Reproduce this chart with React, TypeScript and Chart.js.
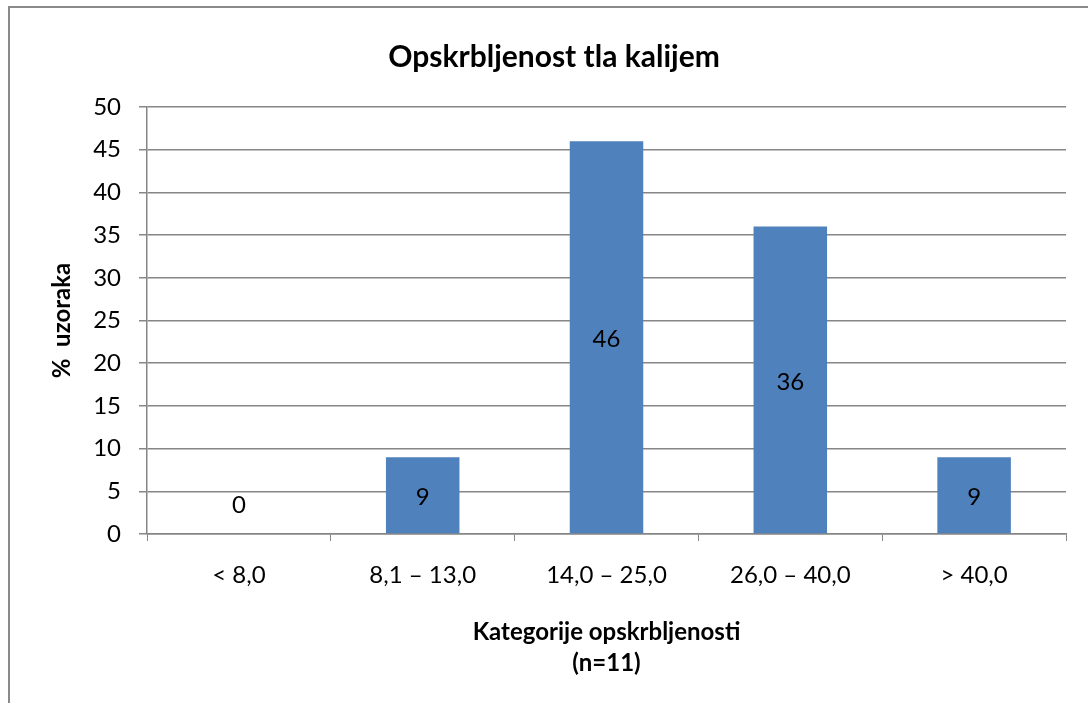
import React, { useEffect, useRef } from "react";
import { Chart, registerables } from "chart.js";

Chart.register(...registerables);

const categories = ["< 8,0", "8,1 – 13,0", "14,0 – 25,0", "26,0 – 40,0", "> 40,0"];
const values = [0, 9, 46, 36, 9];
const chartTitle = "Opskrbljenost tla kalijem";
const xTitleLines = ["Kategorije opskrbljenosti", "(n=11)"];
const yTitle = "%  uzoraka";
const yMin = 0;
const yMax = 50;
const yStep = 5;

const FONT = "Lato, 'Open Sans', sans-serif";
const GRID = "#868686";
const BAR = "#4F81BD";

const decorPlugin = {
  id: "decor",
  afterDraw(chart: any) {
    const ctx = chart.ctx;
    const ca = chart.chartArea;
    ctx.save();
    // frame
    ctx.strokeStyle = "#8a8a8a";
    ctx.lineWidth = 2;
    ctx.strokeRect(9, 7, 1092, 720);
    ctx.fillStyle = "#000";
    ctx.textAlign = "center";
    ctx.textBaseline = "middle";
    // title
    ctx.font = `bold 30px ${FONT}`;
    ctx.fillText(chartTitle, 554, 57);
    // x title
    ctx.font = `bold 24px ${FONT}`;
    const cx = (ca.left + ca.right) / 2;
    ctx.fillText(xTitleLines[0], cx, 632);
    ctx.fillText(xTitleLines[1], cx, 663);
    // y title
    ctx.save();
    ctx.translate(62, (ca.top + ca.bottom) / 2);
    ctx.rotate(-Math.PI / 2);
    ctx.fillText(yTitle, 0, 0);
    ctx.restore();
    // data labels
    ctx.font = `24px ${FONT}`;
    const meta = chart.getDatasetMeta(0);
    meta.data.forEach((el: any, i: number) => {
      const v = values[i];
      const y = v > 0 ? (el.y + el.base) / 2 + 2 : el.base - 29;
      ctx.fillText(String(v), el.x, y);
    });
    ctx.restore();
  },
};

export default function App() {
  const ref = useRef<HTMLCanvasElement>(null);
  useEffect(() => {
    if (!ref.current) return;
    const chart = new Chart(ref.current, {
      type: "bar",
      data: {
        labels: categories,
        datasets: [
          {
            data: values,
            backgroundColor: BAR,
            barPercentage: 0.4,
            categoryPercentage: 1,
          },
        ],
      },
      options: {
        responsive: false,
        animation: false,
        devicePixelRatio: 1,
        layout: { padding: { left: 0, right: 22, top: 107, bottom: 0 } },
        plugins: { legend: { display: false }, tooltip: { enabled: false }, title: { display: false } },
        scales: {
          x: {
            afterFit: (s: any) => {
              s.height = 169;
            },
            grid: { offset: true, drawOnChartArea: false, tickLength: 7, color: GRID, lineWidth: 1 },
            border: { color: GRID, width: 1.5 },
            ticks: { color: "#000", font: { family: FONT, size: 24 }, padding: 20, maxRotation: 0 },
          },
          y: {
            min: yMin,
            max: yMax,
            afterFit: (s: any) => {
              s.width = 147;
            },
            grid: { color: GRID, lineWidth: 1.5, tickLength: 8 },
            border: { color: GRID, width: 1.5 },
            ticks: { stepSize: yStep, color: "#000", font: { family: FONT, size: 24 }, padding: 18 },
          },
        },
      },
      plugins: [decorPlugin],
    });
    return () => chart.destroy();
  }, []);
  return (
    <canvas
      ref={ref}
      width={1088}
      height={703}
      style={{ position: "absolute", left: 0, top: 0, width: 1088, height: 703, display: "block", background: "#fff" }}
    />
  );
}
